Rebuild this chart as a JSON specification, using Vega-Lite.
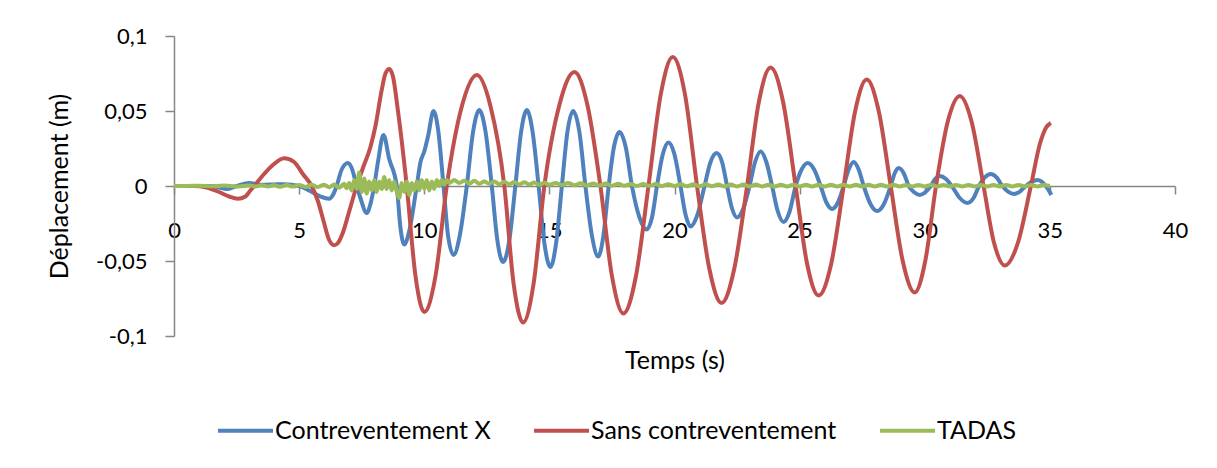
{
"$schema": "https://vega.github.io/schema/vega-lite/v6.json",
"width": 1001,
"height": 300,
"autosize": {"type": "none"},
"padding": {"left": 174, "top": 36, "right": 42, "bottom": 132},
"background": "white",
"config": {"view": {"stroke": null}, "font": "Lato"},
"data": {"values": [
{"serie":"Contreventement X","t":0,"v":0},{"serie":"Contreventement X","t":1.5,"v":0},{"serie":"Contreventement X","t":1.8,"v":-0.001},{"serie":"Contreventement X","t":2.1,"v":-0.002},{"serie":"Contreventement X","t":2.5,"v":0},{"serie":"Contreventement X","t":3.0,"v":0.002},{"serie":"Contreventement X","t":3.5,"v":0.0008},{"serie":"Contreventement X","t":4.0,"v":0.001},{"serie":"Contreventement X","t":4.4,"v":0.0012},{"serie":"Contreventement X","t":5.0,"v":0},{"serie":"Contreventement X","t":5.4,"v":-0.003},{"serie":"Contreventement X","t":5.85,"v":-0.007},{"serie":"Contreventement X","t":6.2,"v":-0.0085},{"serie":"Contreventement X","t":6.35,"v":-0.006},{"serie":"Contreventement X","t":6.5,"v":0},{"serie":"Contreventement X","t":6.7,"v":0.011},{"serie":"Contreventement X","t":6.95,"v":0.0153},{"serie":"Contreventement X","t":7.1,"v":0.012},{"serie":"Contreventement X","t":7.3,"v":0},{"serie":"Contreventement X","t":7.45,"v":-0.008},{"serie":"Contreventement X","t":7.7,"v":-0.018},{"serie":"Contreventement X","t":7.85,"v":-0.012},{"serie":"Contreventement X","t":8.0,"v":0},{"serie":"Contreventement X","t":8.15,"v":0.016},{"serie":"Contreventement X","t":8.37,"v":0.034},{"serie":"Contreventement X","t":8.6,"v":0.018},{"serie":"Contreventement X","t":8.9,"v":0},{"serie":"Contreventement X","t":9.05,"v":-0.028},{"serie":"Contreventement X","t":9.2,"v":-0.039},{"serie":"Contreventement X","t":9.4,"v":-0.03},{"serie":"Contreventement X","t":9.7,"v":0},{"serie":"Contreventement X","t":9.85,"v":0.016},{"serie":"Contreventement X","t":10.0,"v":0.023},{"serie":"Contreventement X","t":10.15,"v":0.033},{"serie":"Contreventement X","t":10.37,"v":0.05},{"serie":"Contreventement X","t":10.55,"v":0.038},{"serie":"Contreventement X","t":10.77,"v":0},{"serie":"Contreventement X","t":10.95,"v":-0.033},{"serie":"Contreventement X","t":11.17,"v":-0.046},{"serie":"Contreventement X","t":11.42,"v":-0.033},{"serie":"Contreventement X","t":11.7,"v":0},{"serie":"Contreventement X","t":11.95,"v":0.036},{"serie":"Contreventement X","t":12.2,"v":0.0507},{"serie":"Contreventement X","t":12.45,"v":0.036},{"serie":"Contreventement X","t":12.7,"v":0},{"serie":"Contreventement X","t":12.92,"v":-0.036},{"serie":"Contreventement X","t":13.15,"v":-0.0507},{"serie":"Contreventement X","t":13.4,"v":-0.036},{"serie":"Contreventement X","t":13.64,"v":0},{"serie":"Contreventement X","t":13.87,"v":0.036},{"serie":"Contreventement X","t":14.1,"v":0.0507},{"serie":"Contreventement X","t":14.33,"v":0.036},{"serie":"Contreventement X","t":14.57,"v":0},{"serie":"Contreventement X","t":14.8,"v":-0.038},{"serie":"Contreventement X","t":15.04,"v":-0.054},{"serie":"Contreventement X","t":15.27,"v":-0.038},{"serie":"Contreventement X","t":15.5,"v":0},{"serie":"Contreventement X","t":15.72,"v":0.036},{"serie":"Contreventement X","t":15.95,"v":0.05},{"serie":"Contreventement X","t":16.2,"v":0.036},{"serie":"Contreventement X","t":16.44,"v":0},{"serie":"Contreventement X","t":16.7,"v":-0.033},{"serie":"Contreventement X","t":16.95,"v":-0.047},{"serie":"Contreventement X","t":17.16,"v":-0.033},{"serie":"Contreventement X","t":17.37,"v":0},{"serie":"Contreventement X","t":17.58,"v":0.026},{"serie":"Contreventement X","t":17.8,"v":0.036},{"serie":"Contreventement X","t":18.05,"v":0.026},{"serie":"Contreventement X","t":18.3,"v":0},{"serie":"Contreventement X","t":18.6,"v":-0.021},{"serie":"Contreventement X","t":18.88,"v":-0.029},{"serie":"Contreventement X","t":19.1,"v":-0.021},{"serie":"Contreventement X","t":19.3,"v":0},{"serie":"Contreventement X","t":19.53,"v":0.021},{"serie":"Contreventement X","t":19.76,"v":0.029},{"serie":"Contreventement X","t":20.0,"v":0.021},{"serie":"Contreventement X","t":20.24,"v":0},{"serie":"Contreventement X","t":20.44,"v":-0.019},{"serie":"Contreventement X","t":20.64,"v":-0.027},{"serie":"Contreventement X","t":20.92,"v":-0.019},{"serie":"Contreventement X","t":21.2,"v":0},{"serie":"Contreventement X","t":21.44,"v":0.016},{"serie":"Contreventement X","t":21.68,"v":0.022},{"serie":"Contreventement X","t":21.9,"v":0.016},{"serie":"Contreventement X","t":22.1,"v":0},{"serie":"Contreventement X","t":22.3,"v":-0.015},{"serie":"Contreventement X","t":22.5,"v":-0.021},{"serie":"Contreventement X","t":22.75,"v":-0.015},{"serie":"Contreventement X","t":23.0,"v":0},{"serie":"Contreventement X","t":23.22,"v":0.016},{"serie":"Contreventement X","t":23.44,"v":0.023},{"serie":"Contreventement X","t":23.67,"v":0.016},{"serie":"Contreventement X","t":23.9,"v":0},{"serie":"Contreventement X","t":24.13,"v":-0.017},{"serie":"Contreventement X","t":24.36,"v":-0.024},{"serie":"Contreventement X","t":24.6,"v":-0.017},{"serie":"Contreventement X","t":24.84,"v":0},{"serie":"Contreventement X","t":25.08,"v":0.011},{"serie":"Contreventement X","t":25.32,"v":0.0153},{"serie":"Contreventement X","t":25.58,"v":0.011},{"serie":"Contreventement X","t":25.84,"v":0},{"serie":"Contreventement X","t":26.07,"v":-0.011},{"serie":"Contreventement X","t":26.3,"v":-0.0153},{"serie":"Contreventement X","t":26.53,"v":-0.011},{"serie":"Contreventement X","t":26.76,"v":0},{"serie":"Contreventement X","t":26.96,"v":0.011},{"serie":"Contreventement X","t":27.16,"v":0.016},{"serie":"Contreventement X","t":27.36,"v":0.011},{"serie":"Contreventement X","t":27.56,"v":0},{"serie":"Contreventement X","t":27.83,"v":-0.012},{"serie":"Contreventement X","t":28.1,"v":-0.0167},{"serie":"Contreventement X","t":28.37,"v":-0.012},{"serie":"Contreventement X","t":28.64,"v":0},{"serie":"Contreventement X","t":28.8,"v":0.0085},{"serie":"Contreventement X","t":28.96,"v":0.012},{"serie":"Contreventement X","t":29.16,"v":0.0085},{"serie":"Contreventement X","t":29.36,"v":0},{"serie":"Contreventement X","t":29.58,"v":-0.0042},{"serie":"Contreventement X","t":29.8,"v":-0.006},{"serie":"Contreventement X","t":30.02,"v":-0.0042},{"serie":"Contreventement X","t":30.24,"v":0},{"serie":"Contreventement X","t":30.42,"v":0.0047},{"serie":"Contreventement X","t":30.6,"v":0.0067},{"serie":"Contreventement X","t":30.85,"v":0.0047},{"serie":"Contreventement X","t":31.08,"v":0},{"serie":"Contreventement X","t":31.4,"v":-0.008},{"serie":"Contreventement X","t":31.7,"v":-0.0113},{"serie":"Contreventement X","t":31.95,"v":-0.008},{"serie":"Contreventement X","t":32.17,"v":0},{"serie":"Contreventement X","t":32.4,"v":0.0057},{"serie":"Contreventement X","t":32.64,"v":0.008},{"serie":"Contreventement X","t":32.87,"v":0.0057},{"serie":"Contreventement X","t":33.1,"v":0},{"serie":"Contreventement X","t":33.33,"v":-0.0037},{"serie":"Contreventement X","t":33.56,"v":-0.0053},{"serie":"Contreventement X","t":33.8,"v":-0.0037},{"serie":"Contreventement X","t":34.04,"v":0},{"serie":"Contreventement X","t":34.27,"v":0.0028},{"serie":"Contreventement X","t":34.5,"v":0.004},{"serie":"Contreventement X","t":34.68,"v":0.0028},{"serie":"Contreventement X","t":34.84,"v":0},{"serie":"Contreventement X","t":35.06,"v":-0.006},
{"serie":"Sans contreventement","t":0,"v":0},{"serie":"Sans contreventement","t":0.8,"v":0},{"serie":"Sans contreventement","t":1.3,"v":-0.001},{"serie":"Sans contreventement","t":1.8,"v":-0.004},{"serie":"Sans contreventement","t":2.2,"v":-0.007},{"serie":"Sans contreventement","t":2.55,"v":-0.0085},{"serie":"Sans contreventement","t":2.85,"v":-0.007},{"serie":"Sans contreventement","t":3.05,"v":-0.003},{"serie":"Sans contreventement","t":3.3,"v":0.002},{"serie":"Sans contreventement","t":3.6,"v":0.008},{"serie":"Sans contreventement","t":3.95,"v":0.014},{"serie":"Sans contreventement","t":4.4,"v":0.0185},{"serie":"Sans contreventement","t":4.8,"v":0.016},{"serie":"Sans contreventement","t":5.15,"v":0.008},{"serie":"Sans contreventement","t":5.5,"v":0},{"serie":"Sans contreventement","t":5.75,"v":-0.01},{"serie":"Sans contreventement","t":5.97,"v":-0.023},{"serie":"Sans contreventement","t":6.2,"v":-0.036},{"serie":"Sans contreventement","t":6.4,"v":-0.0395},{"serie":"Sans contreventement","t":6.55,"v":-0.038},{"serie":"Sans contreventement","t":6.75,"v":-0.031},{"serie":"Sans contreventement","t":7.0,"v":-0.017},{"serie":"Sans contreventement","t":7.3,"v":0},{"serie":"Sans contreventement","t":7.55,"v":0.012},{"serie":"Sans contreventement","t":7.85,"v":0.026},{"serie":"Sans contreventement","t":8.05,"v":0.04},{"serie":"Sans contreventement","t":8.3,"v":0.064},{"serie":"Sans contreventement","t":8.45,"v":0.075},{"serie":"Sans contreventement","t":8.6,"v":0.078},{"serie":"Sans contreventement","t":8.75,"v":0.073},{"serie":"Sans contreventement","t":8.95,"v":0.05},{"serie":"Sans contreventement","t":9.3,"v":0},{"serie":"Sans contreventement","t":9.65,"v":-0.06},{"serie":"Sans contreventement","t":10.0,"v":-0.084},{"serie":"Sans contreventement","t":10.45,"v":-0.06},{"serie":"Sans contreventement","t":10.9,"v":0},{"serie":"Sans contreventement","t":11.5,"v":0.053},{"serie":"Sans contreventement","t":12.1,"v":0.074},{"serie":"Sans contreventement","t":12.65,"v":0.053},{"serie":"Sans contreventement","t":13.2,"v":0},{"serie":"Sans contreventement","t":13.57,"v":-0.065},{"serie":"Sans contreventement","t":13.95,"v":-0.091},{"serie":"Sans contreventement","t":14.37,"v":-0.065},{"serie":"Sans contreventement","t":14.8,"v":0},{"serie":"Sans contreventement","t":15.4,"v":0.054},{"serie":"Sans contreventement","t":16.0,"v":0.076},{"serie":"Sans contreventement","t":16.52,"v":0.054},{"serie":"Sans contreventement","t":17.04,"v":0},{"serie":"Sans contreventement","t":17.5,"v":-0.06},{"serie":"Sans contreventement","t":17.96,"v":-0.085},{"serie":"Sans contreventement","t":18.46,"v":-0.06},{"serie":"Sans contreventement","t":18.96,"v":0},{"serie":"Sans contreventement","t":19.45,"v":0.061},{"serie":"Sans contreventement","t":19.93,"v":0.086},{"serie":"Sans contreventement","t":20.42,"v":0.061},{"serie":"Sans contreventement","t":20.9,"v":0},{"serie":"Sans contreventement","t":21.39,"v":-0.055},{"serie":"Sans contreventement","t":21.88,"v":-0.078},{"serie":"Sans contreventement","t":22.39,"v":-0.055},{"serie":"Sans contreventement","t":22.9,"v":0},{"serie":"Sans contreventement","t":23.37,"v":0.056},{"serie":"Sans contreventement","t":23.84,"v":0.079},{"serie":"Sans contreventement","t":24.34,"v":0.056},{"serie":"Sans contreventement","t":24.84,"v":0},{"serie":"Sans contreventement","t":25.3,"v":-0.052},{"serie":"Sans contreventement","t":25.76,"v":-0.073},{"serie":"Sans contreventement","t":26.26,"v":-0.052},{"serie":"Sans contreventement","t":26.76,"v":0},{"serie":"Sans contreventement","t":27.22,"v":0.05},{"serie":"Sans contreventement","t":27.68,"v":0.071},{"serie":"Sans contreventement","t":28.16,"v":0.05},{"serie":"Sans contreventement","t":28.64,"v":0},{"serie":"Sans contreventement","t":29.12,"v":-0.05},{"serie":"Sans contreventement","t":29.6,"v":-0.071},{"serie":"Sans contreventement","t":30.02,"v":-0.05},{"serie":"Sans contreventement","t":30.45,"v":0},{"serie":"Sans contreventement","t":30.92,"v":0.043},{"serie":"Sans contreventement","t":31.4,"v":0.06},{"serie":"Sans contreventement","t":31.87,"v":0.043},{"serie":"Sans contreventement","t":32.35,"v":0},{"serie":"Sans contreventement","t":32.77,"v":-0.038},{"serie":"Sans contreventement","t":33.2,"v":-0.053},{"serie":"Sans contreventement","t":33.72,"v":-0.038},{"serie":"Sans contreventement","t":34.24,"v":0},{"serie":"Sans contreventement","t":34.6,"v":0.028},{"serie":"Sans contreventement","t":34.85,"v":0.039},{"serie":"Sans contreventement","t":35.04,"v":0.042},
{"serie":"TADAS","t":0,"v":0},{"serie":"TADAS","t":0.5,"v":0},{"serie":"TADAS","t":1.0,"v":0.0002},{"serie":"TADAS","t":1.5,"v":-0.0002},{"serie":"TADAS","t":2.0,"v":0.0003},{"serie":"TADAS","t":2.5,"v":-0.0003},{"serie":"TADAS","t":3.0,"v":0.0004},{"serie":"TADAS","t":3.25,"v":-0.0003},{"serie":"TADAS","t":3.5,"v":0.0005},{"serie":"TADAS","t":3.75,"v":-0.0004},{"serie":"TADAS","t":4.0,"v":0.0005},{"serie":"TADAS","t":4.25,"v":-0.0005},{"serie":"TADAS","t":4.5,"v":0.0006},{"serie":"TADAS","t":4.75,"v":-0.0004},{"serie":"TADAS","t":5.0,"v":0.0007},{"serie":"TADAS","t":5.25,"v":-0.0006},{"serie":"TADAS","t":5.5,"v":0.0008},{"serie":"TADAS","t":5.75,"v":-0.0007},{"serie":"TADAS","t":6.0,"v":0.0009},{"serie":"TADAS","t":6.2,"v":-0.0008},{"serie":"TADAS","t":6.4,"v":0.001},{"serie":"TADAS","t":6.6,"v":-0.0012},{"serie":"TADAS","t":6.8,"v":0.0015},{"serie":"TADAS","t":6.9,"v":-0.0015},{"serie":"TADAS","t":7.0,"v":0.002},{"serie":"TADAS","t":7.1,"v":-0.003},{"serie":"TADAS","t":7.2,"v":0.004},{"serie":"TADAS","t":7.3,"v":-0.002},{"serie":"TADAS","t":7.4,"v":0.009},{"serie":"TADAS","t":7.45,"v":0.002},{"serie":"TADAS","t":7.5,"v":-0.004},{"serie":"TADAS","t":7.6,"v":0.005},{"serie":"TADAS","t":7.7,"v":-0.005},{"serie":"TADAS","t":7.8,"v":0.003},{"serie":"TADAS","t":7.9,"v":-0.003},{"serie":"TADAS","t":8.0,"v":0.004},{"serie":"TADAS","t":8.1,"v":-0.004},{"serie":"TADAS","t":8.2,"v":0.003},{"serie":"TADAS","t":8.3,"v":-0.002},{"serie":"TADAS","t":8.4,"v":0.006},{"serie":"TADAS","t":8.5,"v":-0.002},{"serie":"TADAS","t":8.6,"v":0.004},{"serie":"TADAS","t":8.7,"v":-0.003},{"serie":"TADAS","t":8.8,"v":0.003},{"serie":"TADAS","t":8.9,"v":-0.004},{"serie":"TADAS","t":9.0,"v":-0.008},{"serie":"TADAS","t":9.1,"v":0.002},{"serie":"TADAS","t":9.2,"v":-0.004},{"serie":"TADAS","t":9.3,"v":0.003},{"serie":"TADAS","t":9.4,"v":-0.006},{"serie":"TADAS","t":9.5,"v":0.002},{"serie":"TADAS","t":9.6,"v":-0.003},{"serie":"TADAS","t":9.7,"v":0.003},{"serie":"TADAS","t":9.8,"v":-0.003},{"serie":"TADAS","t":9.9,"v":0.004},{"serie":"TADAS","t":10.0,"v":-0.002},{"serie":"TADAS","t":10.1,"v":0.004},{"serie":"TADAS","t":10.2,"v":-0.003},{"serie":"TADAS","t":10.3,"v":0.003},{"serie":"TADAS","t":10.4,"v":-0.002},{"serie":"TADAS","t":10.5,"v":0.004},{"serie":"TADAS","t":10.6,"v":0.0},{"serie":"TADAS","t":10.7,"v":0.004},{"serie":"TADAS","t":10.8,"v":0.001},{"serie":"TADAS","t":10.9,"v":0.004},{"serie":"TADAS","t":11.0,"v":0.002},{"serie":"TADAS","t":11.2,"v":0.004},{"serie":"TADAS","t":11.4,"v":0.002},{"serie":"TADAS","t":11.6,"v":0.0035},{"serie":"TADAS","t":11.8,"v":0.0015},{"serie":"TADAS","t":12.0,"v":0.0035},{"serie":"TADAS","t":12.2,"v":0.0015},{"serie":"TADAS","t":12.4,"v":0.003},{"serie":"TADAS","t":12.6,"v":0.0015},{"serie":"TADAS","t":12.8,"v":0.003},{"serie":"TADAS","t":13.0,"v":0.0012},{"serie":"TADAS","t":13.2,"v":0.0028},{"serie":"TADAS","t":13.4,"v":0.0012},{"serie":"TADAS","t":13.6,"v":0.0026},{"serie":"TADAS","t":13.8,"v":0.001},{"serie":"TADAS","t":14.0,"v":0.0025},{"serie":"TADAS","t":14.2,"v":0.001},{"serie":"TADAS","t":14.4,"v":0.0024},{"serie":"TADAS","t":14.6,"v":0.0008},{"serie":"TADAS","t":14.8,"v":0.0022},{"serie":"TADAS","t":15.0,"v":0.0008},{"serie":"TADAS","t":15.25,"v":0.002},{"serie":"TADAS","t":15.5,"v":0.0006},{"serie":"TADAS","t":15.75,"v":0.002},{"serie":"TADAS","t":16.0,"v":0.0005},{"serie":"TADAS","t":16.25,"v":0.0018},{"serie":"TADAS","t":16.5,"v":0.0004},{"serie":"TADAS","t":16.75,"v":0.0017},{"serie":"TADAS","t":17.0,"v":0.0003},{"serie":"TADAS","t":17.25,"v":0.0016},{"serie":"TADAS","t":17.5,"v":0.0002},{"serie":"TADAS","t":17.75,"v":0.0015},{"serie":"TADAS","t":18.0,"v":0.0001},{"serie":"TADAS","t":18.25,"v":0.0014},{"serie":"TADAS","t":18.5,"v":0.0},{"serie":"TADAS","t":18.75,"v":0.0013},{"serie":"TADAS","t":19.0,"v":0.0},{"serie":"TADAS","t":19.25,"v":0.0013},{"serie":"TADAS","t":19.5,"v":-0.0001},{"serie":"TADAS","t":19.75,"v":0.0012},{"serie":"TADAS","t":20.0,"v":-0.0001},{"serie":"TADAS","t":20.25,"v":0.0012},{"serie":"TADAS","t":20.5,"v":-0.0002},{"serie":"TADAS","t":20.75,"v":0.0011},{"serie":"TADAS","t":21.0,"v":-0.0002},{"serie":"TADAS","t":21.25,"v":0.0011},{"serie":"TADAS","t":21.5,"v":-0.0002},{"serie":"TADAS","t":21.75,"v":0.001},{"serie":"TADAS","t":22.0,"v":-0.0003},{"serie":"TADAS","t":22.25,"v":0.001},{"serie":"TADAS","t":22.5,"v":-0.0003},{"serie":"TADAS","t":22.75,"v":0.001},{"serie":"TADAS","t":23.0,"v":-0.0003},{"serie":"TADAS","t":23.25,"v":0.001},{"serie":"TADAS","t":23.5,"v":-0.0003},{"serie":"TADAS","t":23.75,"v":0.0009},{"serie":"TADAS","t":24.0,"v":-0.0003},{"serie":"TADAS","t":24.25,"v":0.0009},{"serie":"TADAS","t":24.5,"v":-0.0003},{"serie":"TADAS","t":24.75,"v":0.0009},{"serie":"TADAS","t":25.0,"v":-0.0003},{"serie":"TADAS","t":25.25,"v":0.0009},{"serie":"TADAS","t":25.5,"v":-0.0003},{"serie":"TADAS","t":25.75,"v":0.0008},{"serie":"TADAS","t":26.0,"v":-0.0003},{"serie":"TADAS","t":26.25,"v":0.0008},{"serie":"TADAS","t":26.5,"v":-0.0003},{"serie":"TADAS","t":26.75,"v":0.0008},{"serie":"TADAS","t":27.0,"v":-0.0003},{"serie":"TADAS","t":27.25,"v":0.0008},{"serie":"TADAS","t":27.5,"v":-0.0003},{"serie":"TADAS","t":27.75,"v":0.0008},{"serie":"TADAS","t":28.0,"v":-0.0003},{"serie":"TADAS","t":28.25,"v":0.0008},{"serie":"TADAS","t":28.5,"v":-0.0003},{"serie":"TADAS","t":28.75,"v":0.0008},{"serie":"TADAS","t":29.0,"v":-0.0003},{"serie":"TADAS","t":29.25,"v":0.0007},{"serie":"TADAS","t":29.5,"v":-0.0003},{"serie":"TADAS","t":29.75,"v":0.0007},{"serie":"TADAS","t":30.0,"v":-0.0003},{"serie":"TADAS","t":30.25,"v":0.0007},{"serie":"TADAS","t":30.5,"v":-0.0003},{"serie":"TADAS","t":30.75,"v":0.0007},{"serie":"TADAS","t":31.0,"v":-0.0003},{"serie":"TADAS","t":31.25,"v":0.0007},{"serie":"TADAS","t":31.5,"v":-0.0003},{"serie":"TADAS","t":31.75,"v":0.0007},{"serie":"TADAS","t":32.0,"v":-0.0003},{"serie":"TADAS","t":32.25,"v":0.0007},{"serie":"TADAS","t":32.5,"v":-0.0003},{"serie":"TADAS","t":32.75,"v":0.0007},{"serie":"TADAS","t":33.0,"v":-0.0003},{"serie":"TADAS","t":33.25,"v":0.0007},{"serie":"TADAS","t":33.5,"v":-0.0003},{"serie":"TADAS","t":33.75,"v":0.0007},{"serie":"TADAS","t":34.0,"v":-0.0003},{"serie":"TADAS","t":34.25,"v":0.0007},{"serie":"TADAS","t":34.5,"v":-0.0003},{"serie":"TADAS","t":34.75,"v":0.0006},{"serie":"TADAS","t":35.0,"v":0.0}
]},
"mark": {"type": "line", "strokeWidth": 4, "interpolate": "monotone", "clip": false},
"encoding": {
  "x": {"field": "t", "type": "quantitative",
    "scale": {"domain": [0, 40], "nice": false, "zero": false},
    "axis": {"values": [0,5,10,15,20,25,30,35,40], "offset": -150, "grid": false,
      "domainColor": "#868686", "domainWidth": 1.5, "tickColor": "#868686", "tickWidth": 1.5, "tickSize": 8,
      "labelFont": "Lato", "labelFontSize": 22, "labelColor": "#000000", "labelPadding": 26,
      "labelFlush": false, "labelOverlap": false,
      "title": "Temps (s)", "titleFont": "Lato", "titleFontSize": 25, "titleFontWeight": "normal",
      "titleColor": "#000000", "titleY": 182, "titleBaseline": "alphabetic"}},
  "y": {"field": "v", "type": "quantitative",
    "scale": {"domain": [-0.1, 0.1], "nice": false, "zero": false},
    "axis": {"values": [-0.1,-0.05,0,0.05,0.1], "grid": false,
      "labelExpr": "replace(replace(format(datum.value, '~g'), '.', ','), '\u2212', '-')",
      "domainColor": "#868686", "domainWidth": 1.5, "tickColor": "#868686", "tickWidth": 1.5, "tickSize": 9,
      "labelFont": "Lato", "labelFontSize": 22, "labelColor": "#000000", "labelPadding": 18,
      "title": "Déplacement (m)", "titleFont": "Lato", "titleFontSize": 25, "titleFontWeight": "normal",
      "titleColor": "#000000", "titleX": -107, "titleBaseline": "alphabetic"}},
  "color": {"field": "serie", "type": "nominal",
    "scale": {"domain": ["Contreventement X", "Sans contreventement", "TADAS"], "range": ["#4F81BD", "#C0504D", "#9BBB59"]},
    "legend": {"orient": "none", "legendX": 42, "legendY": 365, "direction": "horizontal", "title": null,
      "symbolType": "stroke", "symbolSize": 3025, "symbolStrokeWidth": 4,
      "labelFont": "Lato", "labelFontSize": 25, "labelColor": "#000000", "labelOffset": 0,
      "columnPadding": 35, "labelLimit": 0}}
}
}
